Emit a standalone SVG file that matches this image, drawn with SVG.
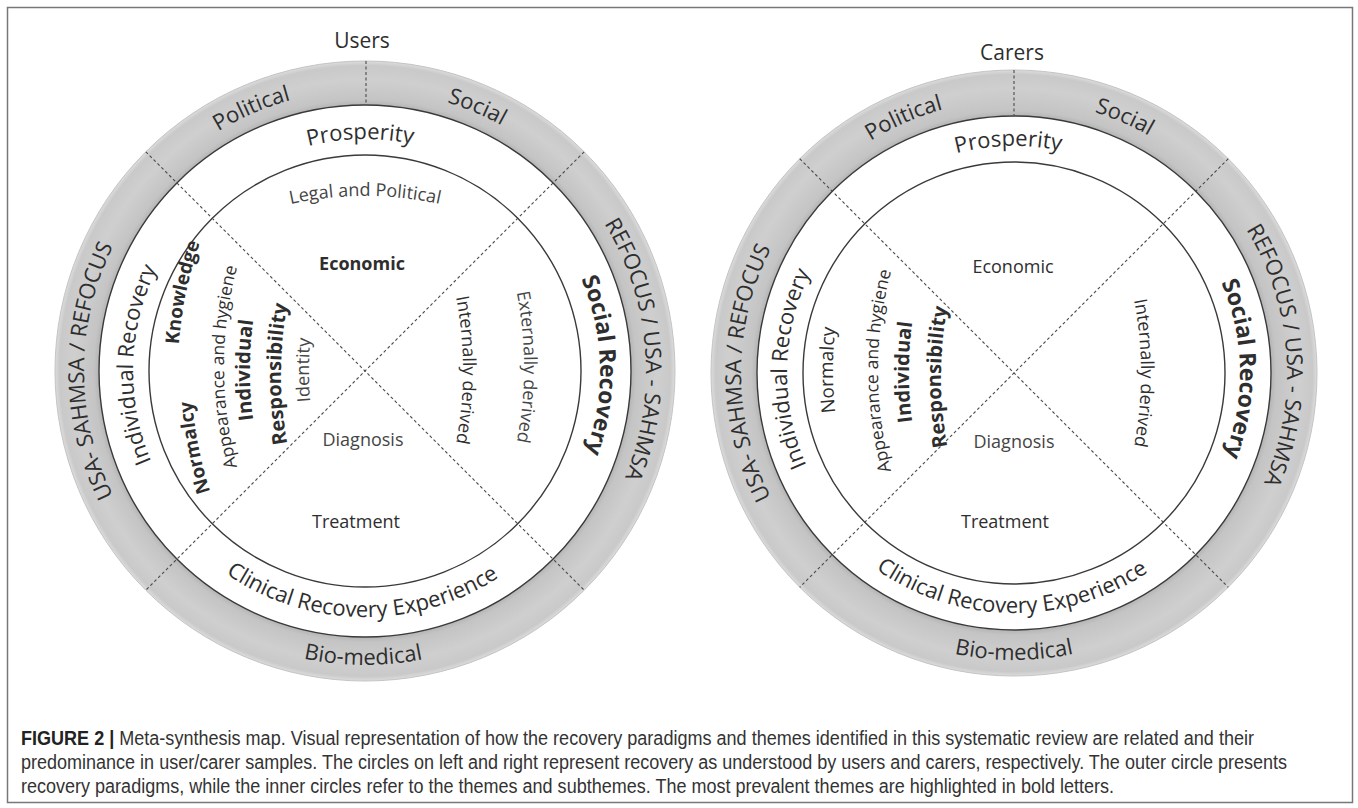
<svg xmlns="http://www.w3.org/2000/svg" width="1358" height="808" viewBox="0 0 1358 808">
<style>
.t{font-family:"Open Sans","Noto Sans","Liberation Sans",sans-serif;fill:#2e2e2e}
.ring{font-size:22px}
.ann{font-size:22px}
.in{font-size:18px}
.lt{fill:#454545}
.b{font-weight:700}
.edge{fill:none;stroke:#3a3a3a;stroke-width:1.4}
.outer{fill:none;stroke:#c4c4c4;stroke-width:1}
.dash{fill:none;stroke:#4a4a4a;stroke-width:1.1;stroke-dasharray:3 2.5}
.cap{font-family:"Liberation Sans",Arial,sans-serif;font-size:19.5px;fill:#333}
</style>
<defs>
<radialGradient id="gL" gradientUnits="userSpaceOnUse" cx="365" cy="371" r="310">
<stop offset="0.855" stop-color="#b2b2b2"/>
<stop offset="0.875" stop-color="#c4c4c4"/>
<stop offset="0.94" stop-color="#cfcfcf"/>
<stop offset="0.985" stop-color="#c9c9c9"/>
<stop offset="1" stop-color="#dcdcdc"/>
</radialGradient>
<radialGradient id="gR" gradientUnits="userSpaceOnUse" cx="1014" cy="373" r="303">
<stop offset="0.846" stop-color="#b2b2b2"/>
<stop offset="0.866" stop-color="#c4c4c4"/>
<stop offset="0.94" stop-color="#cfcfcf"/>
<stop offset="0.985" stop-color="#c9c9c9"/>
<stop offset="1" stop-color="#dcdcdc"/>
</radialGradient>
<!-- left circle text paths -->
<path id="L281R" d="M646,371 A281,281 0 1,1 84,371 A281,281 0 1,1 646,371"/>
<path id="L281L" d="M84,371 A281,281 0 1,1 646,371 A281,281 0 1,1 84,371"/>
<path id="L232R" d="M597,371 A232,232 0 1,1 133,371 A232,232 0 1,1 597,371"/>
<path id="L235L" d="M130,371 A235,235 0 1,1 600,371 A235,235 0 1,1 130,371"/>
<path id="L294C" d="M71,371 A294,294 0 1,0 659,371 A294,294 0 1,0 71,371"/>
<path id="L246C" d="M119,371 A246,246 0 1,0 611,371 A246,246 0 1,0 119,371"/>
<path id="LLegal" d="M245.3,217.1 A350,350 0 0,1 484.7,217.1"/>
<path id="LKnow" d="M201.2,502.7 A385,385 0 0,1 229.6,178.5"/>
<path id="LNorm" d="M242.6,563.5 A385,385 0 0,1 214.2,239.3"/>
<path id="LApp" d="M247.2,498.7 A385,385 0 0,1 247.2,235.3"/>
<path id="LInd" d="M273.2,501.7 A385,385 0 0,1 273.2,238.3"/>
<path id="LResp" d="M304.2,505.7 A385,385 0 0,1 304.2,242.3"/>
<path id="LIdent" d="M332.2,501.7 A385,385 0 0,1 332.2,238.3"/>
<path id="LIntern" d="M439.8,238.3 A385,385 0 0,1 439.8,501.7"/>
<path id="LExtern" d="M500.8,235.3 A385,385 0 0,1 500.8,498.7"/>
<!-- right circle text paths -->
<path id="R273R" d="M1287,373 A273,273 0 1,1 741,373 A273,273 0 1,1 1287,373"/>
<path id="R273L" d="M741,373 A273,273 0 1,1 1287,373 A273,273 0 1,1 741,373"/>
<path id="R227R" d="M1241,373 A227,227 0 1,1 787,373 A227,227 0 1,1 1241,373"/>
<path id="R226L" d="M788,373 A226,226 0 1,1 1240,373 A226,226 0 1,1 788,373"/>
<path id="R287C" d="M727,373 A287,287 0 1,0 1301,373 A287,287 0 1,0 727,373"/>
<path id="R240C" d="M774,373 A240,240 0 1,0 1254,373 A240,240 0 1,0 774,373"/>
<path id="RNorm" d="M856.2,501.7 A385,385 0 0,1 856.2,238.3"/>
<path id="RApp" d="M901.2,502.7 A385,385 0 0,1 901.2,239.3"/>
<path id="RInd" d="M932.2,503.7 A385,385 0 0,1 932.2,240.3"/>
<path id="RResp" d="M964.2,508.7 A385,385 0 0,1 964.2,245.3"/>
<path id="RIntern" d="M1117.8,241.3 A385,385 0 0,1 1117.8,504.7"/>
</defs>

<rect x="7.5" y="7.5" width="1345" height="795" fill="#fff" stroke="#777" stroke-width="1.5"/>

<!-- LEFT: Users -->
<g id="users-map">
  <g id="users-ring">
    <path d="M55,371 a310,310 0 1,0 620,0 a310,310 0 1,0 -620,0 Z M99,371 a266,266 0 1,1 532,0 a266,266 0 1,1 -532,0 Z" fill="url(#gL)" fill-rule="evenodd"/>
    <circle cx="365" cy="371" r="310" class="outer"/>
    <circle cx="365" cy="371" r="266" class="edge"/>
  </g>
  <g id="users-inner">
    <circle cx="365" cy="371" r="216" class="edge" stroke-width="1.2"/>
  </g>
</g>

<!-- RIGHT: Carers -->
<g id="carers-map">
  <g id="carers-ring">
    <path d="M711,373 a303,303 0 1,0 606,0 a303,303 0 1,0 -606,0 Z M757,373 a257,257 0 1,1 514,0 a257,257 0 1,1 -514,0 Z" fill="url(#gR)" fill-rule="evenodd"/>
    <circle cx="1014" cy="373" r="303" class="outer"/>
    <circle cx="1014" cy="373" r="257" class="edge"/>
  </g>
  <g id="carers-inner">
    <circle cx="1014" cy="373" r="211" class="edge" stroke-width="1.2"/>
  </g>
</g>

<g id="connectors">
  <line class="dash" x1="366" y1="61" x2="366" y2="105"/>
  <line class="dash" x1="145.8" y1="151.8" x2="584.2" y2="590.2"/>
  <line class="dash" x1="584.2" y1="151.8" x2="145.8" y2="590.2"/>
  <line class="dash" x1="1014" y1="70" x2="1014" y2="116"/>
  <line class="dash" x1="799.7" y1="158.7" x2="1228.3" y2="587.3"/>
  <line class="dash" x1="1228.3" y1="158.7" x2="799.7" y2="587.3"/>
</g>

<!-- LEFT labels -->
<g id="users-labels">
  <text class="t" x="362" y="48" font-size="21" text-anchor="middle">Users</text>
  <g id="u-paradigms" class="t ring">
    <text text-anchor="middle"><textPath href="#L281R" startOffset="68.5%">Political</textPath></text>
    <text text-anchor="middle"><textPath href="#L281R" startOffset="81.4%">Social</textPath></text>
    <text text-anchor="middle"><textPath href="#L281R" startOffset="50%">USA- SAHMSA / REFOCUS</textPath></text>
    <text text-anchor="middle"><textPath href="#L281L" startOffset="48.7%">REFOCUS / USA - SAHMSA</textPath></text>
    <text text-anchor="middle"><textPath href="#L294C" startOffset="24.9%">Bio-medical</textPath></text>
  </g>
  <g id="u-themes" class="t ann">
    <text text-anchor="middle"><textPath href="#L232R" startOffset="74.67%">Prosperity</textPath></text>
    <text text-anchor="middle"><textPath href="#L232R" startOffset="50.45%">Individual Recovery</textPath></text>
    <text text-anchor="middle" class="b" font-size="23"><textPath href="#L235L" startOffset="49.6%">Social Recovery</textPath></text>
    <text text-anchor="middle"><textPath href="#L246C" startOffset="24.8%">Clinical Recovery Experience</textPath></text>
  </g>
  <g id="u-subthemes" class="t in">
    <text text-anchor="middle" class="lt"><textPath href="#LLegal" startOffset="50%">Legal and Political</textPath></text>
    <text x="362" y="270" text-anchor="middle" class="b">Economic</text>
    <text text-anchor="middle" class="b" font-size="19"><textPath href="#LKnow" startOffset="63.4%">Knowledge</textPath></text>
    <text text-anchor="middle" class="b" font-size="19"><textPath href="#LNorm" startOffset="37.2%">Normalcy</textPath></text>
    <text text-anchor="middle" font-size="17.5"><textPath href="#LApp" startOffset="50%">Appearance and hygiene</textPath></text>
    <text text-anchor="middle" class="b" font-size="20"><textPath href="#LInd" startOffset="50%">Individual</textPath></text>
    <text text-anchor="middle" class="b" font-size="20"><textPath href="#LResp" startOffset="50%">Responsibility</textPath></text>
    <text text-anchor="middle" class="lt"><textPath href="#LIdent" startOffset="50%">Identity</textPath></text>
    <text text-anchor="middle"><textPath href="#LIntern" startOffset="50%">Internally derived</textPath></text>
    <text text-anchor="middle" class="lt"><textPath href="#LExtern" startOffset="50%">Externally derived</textPath></text>
    <text x="363" y="446" text-anchor="middle" class="lt">Diagnosis</text>
    <text x="356" y="528" text-anchor="middle">Treatment</text>
  </g>
</g>

<!-- RIGHT labels -->
<g id="carers-labels">
  <text class="t" x="1012" y="60" font-size="21" text-anchor="middle">Carers</text>
  <g id="c-paradigms" class="t ring">
    <text text-anchor="middle"><textPath href="#R273R" startOffset="68.5%">Political</textPath></text>
    <text text-anchor="middle"><textPath href="#R273R" startOffset="81.5%">Social</textPath></text>
    <text text-anchor="middle"><textPath href="#R273R" startOffset="50%">USA- SAHMSA / REFOCUS</textPath></text>
    <text text-anchor="middle"><textPath href="#R273L" startOffset="48.9%">REFOCUS / USA - SAHMSA</textPath></text>
    <text text-anchor="middle"><textPath href="#R287C" startOffset="25%">Bio-medical</textPath></text>
  </g>
  <g id="c-themes" class="t ann">
    <text text-anchor="middle"><textPath href="#R227R" startOffset="74.6%">Prosperity</textPath></text>
    <text text-anchor="middle"><textPath href="#R227R" startOffset="50.3%">Individual Recovery</textPath></text>
    <text text-anchor="middle" class="b" font-size="23"><textPath href="#R226L" startOffset="49.7%">Social Recovery</textPath></text>
    <text text-anchor="middle"><textPath href="#R240C" startOffset="24.85%">Clinical Recovery Experience</textPath></text>
  </g>
  <g id="c-subthemes" class="t in">
    <text x="1013" y="273" text-anchor="middle">Economic</text>
    <text text-anchor="middle" font-size="19"><textPath href="#RNorm" startOffset="50%">Normalcy</textPath></text>
    <text text-anchor="middle" font-size="17.5"><textPath href="#RApp" startOffset="50%">Appearance and hygiene</textPath></text>
    <text text-anchor="middle" class="b" font-size="20"><textPath href="#RInd" startOffset="50%">Individual</textPath></text>
    <text text-anchor="middle" class="b" font-size="20"><textPath href="#RResp" startOffset="50%">Responsibility</textPath></text>
    <text text-anchor="middle"><textPath href="#RIntern" startOffset="50%">Internally derived</textPath></text>
    <text x="1014" y="448" text-anchor="middle" class="lt">Diagnosis</text>
    <text x="1005" y="528" text-anchor="middle">Treatment</text>
  </g>
</g>

<g id="caption" class="cap">
  <text x="21" y="745" textLength="1233" lengthAdjust="spacingAndGlyphs"><tspan font-weight="700" fill="#222">FIGURE 2 |</tspan> Meta-synthesis map. Visual representation of how the recovery paradigms and themes identified in this systematic review are related and their</text>
  <text x="21" y="769" textLength="1266" lengthAdjust="spacingAndGlyphs">predominance in user/carer samples. The circles on left and right represent recovery as understood by users and carers, respectively. The outer circle presents</text>
  <text x="21" y="793" textLength="1093" lengthAdjust="spacingAndGlyphs">recovery paradigms, while the inner circles refer to the themes and subthemes. The most prevalent themes are highlighted in bold letters.</text>
</g>
</svg>
